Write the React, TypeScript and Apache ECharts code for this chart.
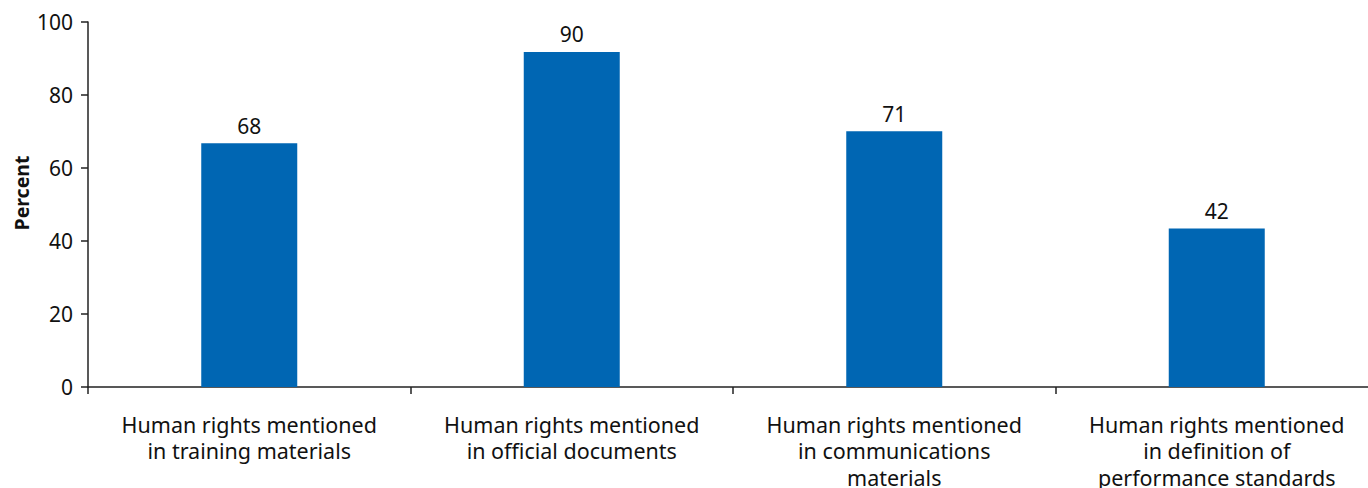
import React, { useEffect, useRef } from "react";
import * as echarts from "echarts";

const categories = [
  "Human rights mentioned\nin training materials",
  "Human rights mentioned\nin official documents",
  "Human rights mentioned\nin communications\nmaterials",
  "Human rights mentioned\nin definition of\nperformance standards",
];
// bar heights as drawn in the reference
const barValues = [66.8, 91.8, 70.1, 43.4];
// printed value labels
const valueLabels = ["68", "90", "71", "42"];
const yTicks = { min: 0, max: 100, interval: 20 };
const yAxisTitle = "Percent";

const FONT = "'Noto Sans', sans-serif";

export default function App() {
  const ref = useRef<HTMLDivElement>(null);
  useEffect(() => {
    if (!ref.current) return;
    const chart = echarts.init(ref.current, undefined, { renderer: "svg" });
    chart.setOption({
      animation: false,
      backgroundColor: "#ffffff",
      textStyle: { fontFamily: FONT },
      grid: {
        left: 88,
        top: 22,
        height: 365,
        width: 1290,
        containLabel: false,
        outerBoundsMode: "none",
      },
      graphic: [
        {
          type: "text",
          x: 21,
          y: 193,
          rotation: Math.PI / 2,
          style: {
            text: yAxisTitle,
            fontSize: 19.5,
            fontWeight: "bold",
            fontFamily: FONT,
            fill: "#111",
            align: "center",
            verticalAlign: "middle",
          },
        },
      ],
      xAxis: {
        type: "category",
        data: categories,
        axisLine: { show: true, lineStyle: { color: "#222", width: 1.5 } },
        axisTick: { show: true, length: 7, alignWithLabel: false, lineStyle: { color: "#222", width: 1.5 } },
        axisLabel: {
          interval: 0,
          fontSize: 21.5,
          lineHeight: 26.5,
          color: "#111",
          margin: 24,
          fontFamily: FONT,
        },
      },
      yAxis: {
        type: "value",
        min: yTicks.min,
        max: yTicks.max,
        interval: yTicks.interval,
        axisLine: { show: true, lineStyle: { color: "#222", width: 1.5 } },
        axisTick: { show: true, length: 7, lineStyle: { color: "#222", width: 1.5 } },
        splitLine: { show: false },
        axisLabel: { fontSize: 21, color: "#111", margin: 15, fontFamily: FONT },
      },
      series: [
        {
          type: "bar",
          data: barValues,
          barWidth: 96,
          itemStyle: { color: "#0066b3" },
          label: {
            show: true,
            position: "top",
            distance: 7,
            fontSize: 21,
            color: "#111",
            fontFamily: FONT,
            formatter: (p: any) => valueLabels[p.dataIndex],
          },
        },
      ],
    });
    return () => chart.dispose();
  }, []);
  return (
    <div
      ref={ref}
      style={{ position: "fixed", left: 0, top: 0, width: 1368, height: 488 }}
    />
  );
}
